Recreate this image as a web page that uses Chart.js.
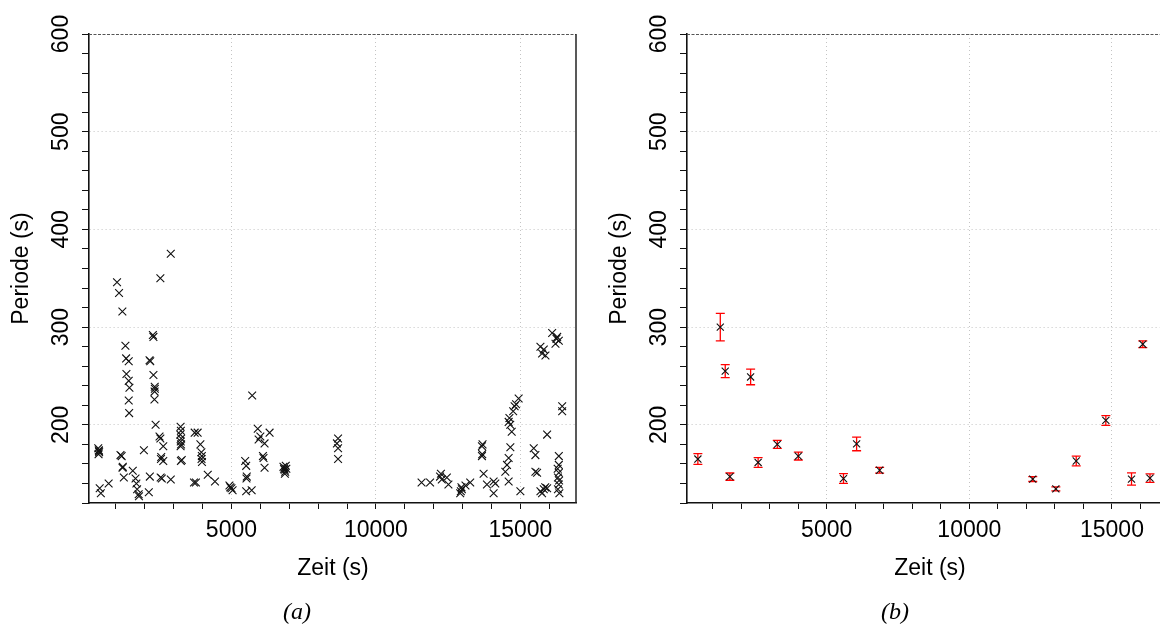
<!DOCTYPE html>
<html>
<head>
<meta charset="utf-8">
<script src="https://cdn.jsdelivr.net/npm/chart.js@4/dist/chart.umd.min.js"></script>
<style>
  html, body { margin: 0; padding: 0; background: #fff; }
  #wrap { position: relative; width: 1166px; height: 628px; overflow: hidden; }
  #wrap canvas { position: absolute; top: 0; }
</style>
</head>
<body>
<div id="wrap">
  <canvas id="chartA" width="583" height="628" style="left:0"></canvas>
  <canvas id="chartB" width="583" height="628" style="left:583px"></canvas>
</div>
<script>
// (a) all detected periods over time
const timesA = [
  390, 410, 420, 400, 415, 440, 480, 750, 1040, 1110, 1225,
  1160, 1200, 1240, 1230, 1275, 1330, 1355, 1445, 1365, 1445, 1470, 1445, 1460,
  1585, 1680, 1710, 1735, 1790, 1800, 1970, 2140, 2175, 2280, 2300, 2165, 2190,
  2300, 2350, 2340, 2345, 2335, 2375, 2510, 2540, 2640, 2570, 2640, 2560,
  2550, 2590, 2900, 2540, 2900, 3240, 3250, 3230, 3260, 3245, 3255, 3240,
  3250, 3280, 3704, 3727, 3830, 3925, 3960, 3975, 3965, 3980, 3770, 4180, 4430,
  4930, 4960, 5040, 5000, 5718, 5475, 5510, 5530, 5520, 5510, 5700,
  5910, 5940, 6000, 6146, 6320, 6090, 6110, 6146,
  6800, 6840, 6860, 6820, 6880, 6850, 6900, 8690, 8650, 8690, 8690,
  11580, 11875, 12220, 12250, 12280, 12455, 12510,
  12975, 12917, 12940, 12960, 13264, 13100,
  13670, 13690, 13670, 13680, 13727, 13843, 14074, 14132, 14074,
  14479, 14537, 14594, 14653, 14594,
  14594, 14650, 14700, 14620, 14750, 14800, 14850, 14940, 15000,
  15462, 15520, 15520, 15578, 15926, 15694, 15750, 15810, 15926, 15860,
  15810, 15752, 15868, 15694, 16100, 16274, 16215, 16330, 16250, 16447, 16447,
  16330, 16330, 16330, 16300, 16330, 16300, 16350, 16290, 16340
];
const periodsA = [
  176, 174, 172, 170, 173, 135, 130, 140, 346, 335, 316,
  169, 168, 157, 156, 146, 281, 268, 265, 252, 245, 238, 225, 212,
  153, 145, 140, 134, 129, 127, 174, 131, 147, 292, 290, 266, 265,
  251, 237, 234, 239, 226, 200, 188, 186, 178, 167, 163, 165,
  146, 145, 144, 350, 375, 198, 194, 190, 186, 183, 180, 178,
  163, 164, 141, 192, 192, 180, 172, 168, 165, 162, 141, 149, 142,
  138, 136, 133, 135, 230, 163, 158, 147, 145, 132, 133,
  196, 185, 188, 181, 192, 168, 166, 156,
  157, 154, 152, 155, 158, 150, 155, 186, 181, 176, 165,
  141, 141, 147, 150, 144, 146, 139,
  134, 130, 132, 136, 141, 138,
  178, 180, 168, 170, 150, 139, 142, 140, 130,
  152, 159, 166, 177, 142,
  203, 200, 193, 207, 214, 219, 221, 227, 132,
  176, 169, 152, 151, 190, 132, 130, 134, 135, 136,
  277, 273, 271, 280, 294, 290, 283, 286, 288, 219, 214,
  168, 159, 151, 146, 139, 134, 130, 155, 143
];

// (b) averaged periods with error bars
const timesB = [485, 1271, 1444, 1607, 2334, 2597, 3269, 4006, 5589, 6049, 6856,
  12223, 13033, 13747, 14785, 15685, 16080, 16333];
const periodsB = [165, 300, 255, 147, 249, 161.5, 180, 168, 145, 180.5, 153.5,
  144.5, 134.5, 163, 204.5, 144.5, 282.5, 145.5];
const errorsB = [5.5, 14, 6.7, 3.7, 8, 5, 4, 4, 5, 7, 3,
  2.5, 2, 5, 5, 6.3, 3.4, 4.4];

const xTickValues = [1000, 2000, 3000, 4000, 5000, 6000, 7000, 8000,
  9000, 10000, 11000, 12000, 13000, 14000, 15000, 16000];
const xTickLabels = [5000, 10000, 15000];
const yTickLabels = [200, 300, 400, 500, 600];

const FONT = "'Liberation Sans', Arial, sans-serif";

function toPoints(xs, ys) {
  return xs.map((x, i) => ({ x: x, y: ys[i] }));
}

// rotated y labels, axis titles, caption, frame lines
const textPlugin = {
  id: 'textPlugin',
  afterDraw(chart, args, opts) {
    const ctx = chart.ctx;
    const area = chart.chartArea;
    const ys = chart.scales.y;
    ctx.save();
    ctx.fillStyle = '#000';
    ctx.font = '23px ' + FONT;
    ctx.textAlign = 'center';
    ctx.textBaseline = 'middle';
    yTickLabels.forEach(v => {
      ctx.save();
      ctx.translate(area.left - 27, ys.getPixelForValue(v));
      ctx.rotate(-Math.PI / 2);
      ctx.fillText(String(v), 0, 0);
      ctx.restore();
    });
    ctx.save();
    ctx.translate(area.left - 67, (area.top + area.bottom) / 2);
    ctx.rotate(-Math.PI / 2);
    ctx.fillText('Periode (s)', 0, 0);
    ctx.restore();
    ctx.fillText('Zeit (s)', opts.titleX, 569);
    ctx.font = 'italic 24px "Liberation Serif", serif';
    ctx.fillText(opts.caption, opts.captionX, 613);

    // top frame (dashed) and optional right frame
    ctx.strokeStyle = '#555';
    ctx.lineWidth = 1;
    ctx.setLineDash([3, 1.5]);
    ctx.beginPath();
    ctx.moveTo(area.left, area.top + 0.5);
    ctx.lineTo(area.right, area.top + 0.5);
    ctx.stroke();
    if (opts.rightBorder) {
      ctx.setLineDash([]);
      ctx.strokeStyle = '#222';
      ctx.lineWidth = 1.5;
      ctx.beginPath();
      ctx.moveTo(area.right, area.top);
      ctx.lineTo(area.right, area.bottom);
      ctx.stroke();
    }
    ctx.restore();
  }
};

// red error bars for chart (b)
const errorBarPlugin = {
  id: 'errorBars',
  beforeDatasetsDraw(chart, args, opts) {
    if (!opts.errors) return;
    const ctx = chart.ctx;
    const xs = chart.scales.x, ys = chart.scales.y;
    ctx.save();
    ctx.strokeStyle = 'rgb(255,0,0)';
    ctx.lineWidth = 1.3;
    opts.xs.forEach((xv, i) => {
      const px = xs.getPixelForValue(xv);
      const top = ys.getPixelForValue(opts.ys[i] + opts.errors[i]);
      const bot = ys.getPixelForValue(opts.ys[i] - opts.errors[i]);
      ctx.beginPath();
      ctx.moveTo(px, top); ctx.lineTo(px, bot);
      ctx.moveTo(px - 4.5, top); ctx.lineTo(px + 4.5, top);
      ctx.moveTo(px - 4.5, bot); ctx.lineTo(px + 4.5, bot);
      ctx.stroke();
    });
    ctx.restore();
  }
};

function makeChart(id, cfg) {
  return new Chart(document.getElementById(id), {
    type: 'scatter',
    data: {
      datasets: [{
        data: toPoints(cfg.xs, cfg.ys),
        pointStyle: 'crossRot',
        pointRadius: cfg.radius,
        borderColor: '#111',
        backgroundColor: '#111',
        borderWidth: 1.1
      }]
    },
    options: {
      responsive: false,
      animation: false,
      events: [],
      layout: { padding: { top: 34, right: cfg.padRight, left: 0, bottom: 0 } },
      plugins: {
        legend: { display: false },
        tooltip: { enabled: false },
        textPlugin: cfg.text,
        errorBars: cfg.errorBars || {}
      },
      scales: {
        x: {
          type: 'linear',
          min: cfg.xMin,
          max: cfg.xMax,
          afterFit: s => { s.height = 125; },
          afterBuildTicks: s => {
            s.ticks = xTickValues.map(v => ({ value: v }));
          },
          ticks: {
            autoSkip: false,
            maxRotation: 0,
            minRotation: 0,
            padding: 8,
            color: '#000',
            font: { family: FONT, size: 23 },
            callback: v => xTickLabels.includes(v) ? String(v) : ''
          },
          grid: {
            color: c => (c.tick && xTickLabels.includes(c.tick.value)) ? '#c4c4c4' : 'rgba(0,0,0,0)',
            tickColor: '#111',
            tickLength: 6,
            lineWidth: 1
          },
          border: { color: '#111', width: 1.6, dash: [1, 3] }
        },
        y: {
          type: 'linear',
          min: 120,
          max: 600,
          afterFit: s => { s.width = cfg.yWidth; },
          ticks: {
            stepSize: 20,
            autoSkip: false,
            callback: () => '',
            padding: 0
          },
          grid: {
            color: c => (c.tick && c.tick.value % 100 === 0 && c.tick.value < 600) ? '#c4c4c4' : 'rgba(0,0,0,0)',
            tickColor: '#111',
            tickLength: 7,
            lineWidth: 1
          },
          border: { color: '#111', width: 1.6, dash: [1, 3] }
        }
      }
    },
    plugins: [errorBarPlugin, textPlugin]
  });
}

makeChart('chartA', {
  xs: timesA, ys: periodsA, radius: 5.5,
  xMin: 70, xMax: 16925, yWidth: 89, padRight: 7,
  text: { titleX: 333, caption: '(a)', captionX: 297, rightBorder: true }
});

makeChart('chartB', {
  xs: timesB, ys: periodsB, radius: 5,
  xMin: 104, xMax: 16680, yWidth: 104, padRight: 0,
  text: { titleX: 347, caption: '(b)', captionX: 312, rightBorder: false },
  errorBars: { xs: timesB, ys: periodsB, errors: errorsB }
});
</script>
</body>
</html>
